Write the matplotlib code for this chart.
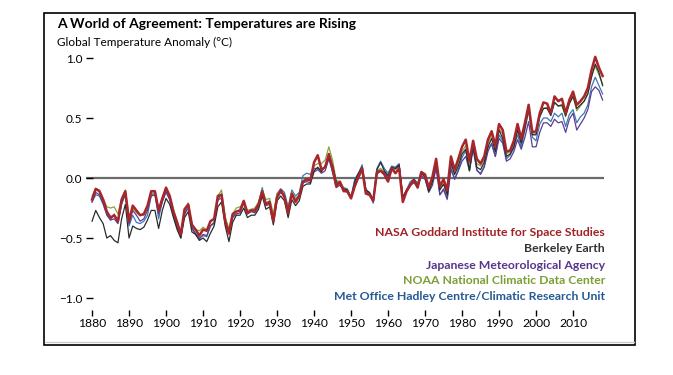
import numpy as np
import matplotlib.pyplot as plt
from matplotlib.patches import Rectangle
from matplotlib.lines import Line2D

years = np.arange(1880, 2019)

nasa = [
    -0.18, -0.09, -0.11, -0.18, -0.28, -0.33, -0.31, -0.36, -0.18, -0.11,
    -0.36, -0.23, -0.27, -0.31, -0.30, -0.23, -0.11, -0.11, -0.27, -0.17,
    -0.08, -0.15, -0.28, -0.37, -0.47, -0.26, -0.22, -0.39, -0.43, -0.48,
    -0.43, -0.44, -0.36, -0.34, -0.15, -0.14, -0.36, -0.46, -0.30, -0.28,
    -0.27, -0.19, -0.29, -0.27, -0.27, -0.22, -0.11, -0.22, -0.20, -0.36,
    -0.16, -0.10, -0.16, -0.29, -0.13, -0.20, -0.15, -0.03, -0.01, -0.02,
    0.13, 0.19, 0.07, 0.09, 0.20, 0.09, -0.07, -0.03, -0.11, -0.11,
    -0.17, -0.07, 0.01, 0.08, -0.13, -0.14, -0.19, 0.05, 0.06, 0.03,
    -0.03, 0.08, 0.04, 0.08, -0.20, -0.11, -0.06, -0.02, -0.08, 0.05,
    0.03, -0.08, 0.01, 0.16, -0.07, -0.01, -0.10, 0.18, 0.07, 0.16,
    0.26, 0.32, 0.14, 0.31, 0.16, 0.12, 0.18, 0.32, 0.39, 0.27,
    0.45, 0.40, 0.22, 0.23, 0.31, 0.45, 0.33, 0.46, 0.61, 0.38,
    0.39, 0.54, 0.63, 0.62, 0.54, 0.68, 0.64, 0.66, 0.54, 0.65,
    0.72, 0.61, 0.64, 0.68, 0.75, 0.90, 1.01, 0.92, 0.85,
]

berkeley = [
    -0.36, -0.27, -0.33, -0.38, -0.50, -0.48, -0.52, -0.54, -0.34, -0.22,
    -0.50, -0.40, -0.42, -0.43, -0.41, -0.35, -0.27, -0.27, -0.42, -0.27,
    -0.17, -0.22, -0.33, -0.43, -0.50, -0.33, -0.28, -0.45, -0.47, -0.52,
    -0.50, -0.53, -0.46, -0.40, -0.24, -0.20, -0.40, -0.53, -0.37, -0.31,
    -0.31, -0.25, -0.33, -0.31, -0.31, -0.26, -0.15, -0.26, -0.24, -0.39,
    -0.19, -0.15, -0.19, -0.33, -0.18, -0.23, -0.19, -0.07, -0.05, -0.05,
    0.06, 0.09, 0.05, 0.10, 0.17, 0.10, -0.03, -0.05, -0.09, -0.10,
    -0.16, -0.03, 0.04, 0.09, -0.10, -0.12, -0.18, 0.07, 0.13, 0.06,
    0.02, 0.09, 0.08, 0.11, -0.16, -0.10, -0.05, -0.01, -0.06, 0.04,
    0.01, -0.11, -0.03, 0.13, -0.10, -0.05, -0.14, 0.13, 0.03, 0.10,
    0.20, 0.24, 0.06, 0.27, 0.09, 0.07, 0.13, 0.26, 0.33, 0.22,
    0.40, 0.33, 0.18, 0.20, 0.26, 0.40, 0.29, 0.42, 0.58, 0.36,
    0.36, 0.51, 0.58, 0.58, 0.52, 0.63, 0.60, 0.61, 0.52, 0.62,
    0.68, 0.58, 0.61, 0.64, 0.70, 0.84, 0.95, 0.88, 0.77,
]

jma = [
    -0.20, -0.12, -0.14, -0.21, -0.31, -0.35, -0.34, -0.38, -0.21, -0.14,
    -0.38, -0.27, -0.31, -0.36, -0.34, -0.27, -0.15, -0.14, -0.30, -0.20,
    -0.11, -0.18, -0.31, -0.41, -0.50, -0.30, -0.25, -0.42, -0.47, -0.51,
    -0.47, -0.48, -0.40, -0.37, -0.18, -0.17, -0.38, -0.47, -0.33, -0.30,
    -0.29, -0.21, -0.30, -0.28, -0.29, -0.24, -0.13, -0.23, -0.22, -0.35,
    -0.17, -0.12, -0.14, -0.27, -0.14, -0.19, -0.14, -0.04, -0.03, -0.04,
    0.05, 0.07, 0.04, 0.06, 0.16, 0.05, -0.08, -0.06, -0.10, -0.12,
    -0.17, -0.07, 0.00, 0.06, -0.11, -0.13, -0.20, 0.03, 0.06, 0.05,
    0.00, 0.07, 0.08, 0.10, -0.17, -0.12, -0.06, -0.04, -0.07, 0.02,
    -0.01, -0.12, -0.06, 0.08, -0.14, -0.09, -0.17, 0.07, -0.01, 0.06,
    0.14, 0.18, 0.06, 0.24, 0.07, 0.03, 0.09, 0.22, 0.29, 0.18,
    0.33, 0.29, 0.14, 0.16, 0.22, 0.32, 0.24, 0.34, 0.47, 0.26,
    0.26, 0.38, 0.46, 0.46, 0.43, 0.49, 0.46, 0.47, 0.38, 0.49,
    0.54, 0.40, 0.45, 0.50, 0.57, 0.72, 0.76, 0.73, 0.65,
]

noaa = [
    -0.15, -0.09, -0.10, -0.17, -0.24, -0.25, -0.24, -0.30, -0.17, -0.10,
    -0.33, -0.25, -0.29, -0.31, -0.31, -0.25, -0.13, -0.12, -0.26, -0.17,
    -0.09, -0.15, -0.26, -0.36, -0.45, -0.28, -0.21, -0.38, -0.43, -0.44,
    -0.41, -0.43, -0.40, -0.37, -0.15, -0.10, -0.33, -0.42, -0.30, -0.25,
    -0.24, -0.22, -0.27, -0.26, -0.25, -0.20, -0.10, -0.18, -0.17, -0.30,
    -0.13, -0.10, -0.14, -0.26, -0.12, -0.17, -0.14, -0.03, -0.02, -0.01,
    0.10, 0.12, 0.12, 0.15, 0.26, 0.15, -0.02, -0.03, -0.08, -0.10,
    -0.16, -0.04, 0.02, 0.08, -0.10, -0.13, -0.18, 0.06, 0.08, 0.05,
    0.00, 0.07, 0.07, 0.09, -0.17, -0.10, -0.05, -0.03, -0.06, 0.04,
    0.02, -0.08, -0.01, 0.13, -0.09, -0.05, -0.12, 0.15, 0.04, 0.13,
    0.22, 0.27, 0.12, 0.28, 0.12, 0.10, 0.15, 0.29, 0.36, 0.25,
    0.41, 0.37, 0.20, 0.22, 0.28, 0.41, 0.30, 0.45, 0.59, 0.36,
    0.37, 0.51, 0.58, 0.59, 0.54, 0.63, 0.60, 0.60, 0.51, 0.62,
    0.68, 0.56, 0.60, 0.64, 0.71, 0.86, 0.93, 0.86, 0.78,
]

hadcrut = [
    -0.20, -0.14, -0.15, -0.22, -0.30, -0.35, -0.30, -0.37, -0.22, -0.13,
    -0.40, -0.31, -0.37, -0.38, -0.36, -0.31, -0.14, -0.13, -0.34, -0.19,
    -0.12, -0.18, -0.31, -0.41, -0.47, -0.31, -0.21, -0.41, -0.46, -0.50,
    -0.48, -0.49, -0.40, -0.38, -0.19, -0.13, -0.33, -0.45, -0.32, -0.28,
    -0.27, -0.21, -0.30, -0.27, -0.28, -0.21, -0.08, -0.21, -0.19, -0.33,
    -0.13, -0.09, -0.12, -0.24, -0.10, -0.15, -0.12, 0.02, 0.04, 0.03,
    0.08, 0.08, 0.07, 0.09, 0.18, 0.05, -0.05, -0.04, -0.08, -0.09,
    -0.16, -0.01, 0.04, 0.11, -0.09, -0.13, -0.21, 0.08, 0.14, 0.08,
    0.04, 0.10, 0.09, 0.12, -0.16, -0.10, -0.03, -0.01, -0.04, 0.05,
    0.00, -0.11, -0.01, 0.12, -0.14, -0.10, -0.18, 0.10, -0.01, 0.07,
    0.17, 0.23, 0.07, 0.26, 0.06, 0.04, 0.10, 0.25, 0.28, 0.18,
    0.36, 0.31, 0.16, 0.19, 0.25, 0.36, 0.26, 0.40, 0.56, 0.34,
    0.31, 0.45, 0.50, 0.50, 0.47, 0.54, 0.51, 0.54, 0.43, 0.53,
    0.57, 0.46, 0.51, 0.54, 0.61, 0.76, 0.84, 0.77, 0.70,
]

labels = [
    "NASA Goddard Institute for Space Studies",
    "Berkeley Earth",
    "Japanese Meteorological Agency",
    "NOAA National Climatic Data Center",
    "Met Office Hadley Centre/Climatic Research Unit",
]
line_colors = ["#a8262b", "#2b2b2b", "#5c3d8f", "#86a83f", "#3d78b8"]
text_colors = ["#a02126", "#333333", "#57368a", "#7c9e35", "#245a94"]

plt.rcParams['font.family'] = ['Lato', 'DejaVu Sans']

fig = plt.figure(figsize=(6.73, 3.75), dpi=100)
ax = fig.add_axes([0.1285, 0.1733, 0.7697, 0.688])

ax.axhline(0, color="#6b6b6b", lw=1.6, zorder=1)

series = [hadcrut, noaa, jma, berkeley, nasa]
order = [4, 3, 2, 1, 0]
for s, i in zip(series, order):
    lw = 1.8 if i == 0 else 0.9
    ax.plot(years, s, color=line_colors[i], lw=lw, zorder=2 + (5 - i))

ax.set_xlim(1878.5, 2018.5)
ax.set_ylim(-1.1, 1.05)
ax.set_xticks(np.arange(1880, 2011, 10))
ax.set_yticks([-1.0, -0.5, 0.0, 0.5, 1.0])
ax.set_yticklabels(["\u22121.0", "\u22120.5", "0.0", "0.5", "1.0"])
for sp in ax.spines.values():
    sp.set_visible(False)
ax.tick_params(axis='y', direction='in', length=5, width=1, pad=3, labelsize=8.5)
ax.tick_params(axis='x', direction='out', length=4, width=1, pad=2, labelsize=8.7)

fig.text(0.0847, 0.936, "A World of Agreement: Temperatures are Rising",
         fontsize=10, fontweight='bold', va='center', ha='left')
fig.text(0.0847, 0.888, "Global Temperature Anomaly (\u00b0C)",
         fontsize=8.5, va='center', ha='left')

ys = [0.3813, 0.336, 0.2933, 0.2507, 0.208]
for lab, c, y in zip(labels, text_colors, ys):
    fig.text(0.899, y, lab, color=c, fontsize=8.8, fontweight='bold',
             ha='right', va='center')

fig.add_artist(Rectangle((44 / 673, 1 - 345 / 375), (635 - 44) / 673, (345 - 13) / 375,
                         transform=fig.transFigure, fill=False, ec='black', lw=1.2))
fig.add_artist(Line2D([45 / 673, 634 / 673], [1 - 342 / 375, 1 - 342 / 375],
                      transform=fig.transFigure, color='#cccccc', lw=1))

fig.savefig("out.png", dpi=100)
